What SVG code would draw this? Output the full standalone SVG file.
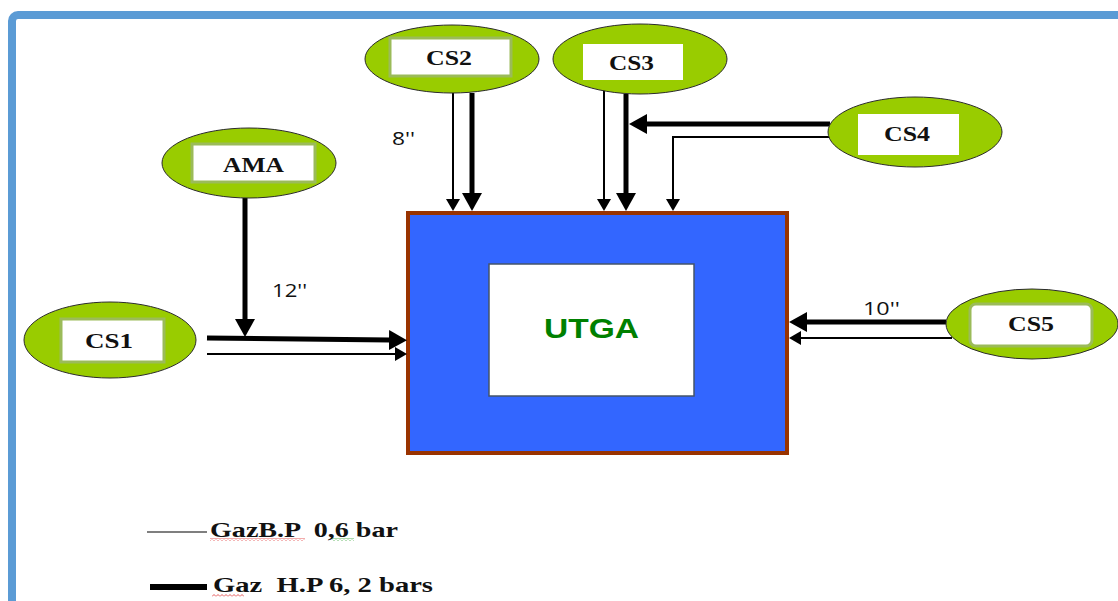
<svg xmlns="http://www.w3.org/2000/svg" width="1118" height="601" viewBox="0 0 1118 601">
<style>
.ell{fill:#99cc00;stroke:#2b2b2b;stroke-width:1}
.boxg{fill:#ffffff;stroke:#9bbb59;stroke-width:3}
.boxw{fill:#ffffff;stroke:none}
.lbl{font-family:"Liberation Serif","Times New Roman",serif;font-weight:bold;font-size:21px;fill:#111;text-anchor:start}
.num{font-family:"Open Sans","Liberation Sans",sans-serif;font-size:18px;fill:#111}
.thick{fill:none;stroke:#000;stroke-width:5}
.thin{fill:none;stroke:#000;stroke-width:2}
.leg{font-family:"Liberation Serif","Times New Roman",serif;font-weight:bold;font-size:22px;fill:#111;white-space:pre}
</style>
<defs>
<marker id="ahT" viewBox="0 0 18 20" refX="1" refY="10" markerWidth="18" markerHeight="20" orient="auto" markerUnits="userSpaceOnUse"><path d="M0,0 L18,10 L0,20 z" fill="#000"/></marker>
<marker id="ahS" viewBox="0 0 12 14" refX="1" refY="7" markerWidth="12" markerHeight="14" orient="auto" markerUnits="userSpaceOnUse"><path d="M0,0 L12,7 L0,14 z" fill="#000"/></marker>
<pattern id="wavR" width="4" height="3" patternUnits="userSpaceOnUse"><path d="M0,2.5 L2,0.5 L4,2.5" fill="none" stroke="#e03030" stroke-width="0.8"/></pattern>
<pattern id="wavG" width="4" height="3" patternUnits="userSpaceOnUse"><path d="M0,2.5 L2,0.5 L4,2.5" fill="none" stroke="#30a030" stroke-width="0.8"/></pattern>
</defs>
<rect width="1118" height="601" fill="#ffffff"/>
<rect x="12" y="15" width="1200" height="700" rx="6" fill="none" stroke="#5b9bd5" stroke-width="8"/>

<g id="utga">
<rect x="408" y="213" width="379" height="240" fill="#3366ff" stroke="#993300" stroke-width="4"/>
<rect x="489" y="264" width="205" height="132" fill="#ffffff" stroke="#44546a" stroke-width="1.5"/>
<text x="544" y="338" font-family="Liberation Sans, Arial, sans-serif" font-weight="bold" font-size="28" fill="#008000" textLength="95" lengthAdjust="spacingAndGlyphs">UTGA</text>
</g>

<g id="connectors">
<line class="thin" x1="453" y1="93" x2="453" y2="200" marker-end="url(#ahS)"/>
<line class="thick" x1="472" y1="93" x2="472" y2="194" marker-end="url(#ahT)"/>
<line class="thin" x1="604" y1="90" x2="604" y2="200" marker-end="url(#ahS)"/>
<line class="thick" x1="626" y1="94" x2="626" y2="194" marker-end="url(#ahT)"/>
<line class="thick" x1="830" y1="124" x2="646" y2="124" marker-end="url(#ahT)"/>
<path class="thin" d="M831,137 L673,137 L673,200" marker-end="url(#ahS)"/>
<line class="thick" x1="245" y1="198" x2="245" y2="320" marker-end="url(#ahT)"/>
<line class="thick" x1="207" y1="338" x2="390" y2="340" marker-end="url(#ahT)"/>
<line class="thin" x1="207" y1="354" x2="396" y2="354" marker-end="url(#ahS)"/>
<line class="thick" x1="946" y1="322" x2="806" y2="322" marker-end="url(#ahT)"/>
<line class="thin" x1="952" y1="338" x2="800" y2="338" marker-end="url(#ahS)"/>
<text class="num" x="392" y="145" textLength="23" lengthAdjust="spacingAndGlyphs">8''</text>
<text class="num" x="272" y="297" textLength="35" lengthAdjust="spacingAndGlyphs">12''</text>
<text class="num" x="863" y="315" textLength="37" lengthAdjust="spacingAndGlyphs">10''</text>
</g>

<g id="cs2">
<ellipse class="ell" cx="452" cy="59" rx="87" ry="34"/>
<rect class="boxg" x="390" y="38" width="121" height="38"/>
<text class="lbl" x="426" y="65" textLength="46" lengthAdjust="spacingAndGlyphs">CS2</text>
</g>
<g id="cs3">
<ellipse class="ell" cx="640" cy="59" rx="87" ry="35"/>
<rect class="boxw" x="583" y="44" width="100" height="36"/>
<text class="lbl" x="609" y="70" textLength="45" lengthAdjust="spacingAndGlyphs">CS3</text>
</g>
<g id="ama">
<ellipse class="ell" cx="249" cy="163" rx="87" ry="35"/>
<rect class="boxg" x="192" y="144" width="123" height="38"/>
<text class="lbl" x="223" y="172" textLength="61" lengthAdjust="spacingAndGlyphs">AMA</text>
</g>
<g id="cs1">
<ellipse class="ell" cx="110" cy="340" rx="86" ry="38"/>
<rect class="boxg" x="61" y="319" width="103" height="43"/>
<text class="lbl" x="85" y="348" textLength="48" lengthAdjust="spacingAndGlyphs">CS1</text>
</g>
<g id="cs4">
<ellipse class="ell" cx="915" cy="132" rx="87" ry="35"/>
<rect class="boxw" x="858" y="114" width="101" height="41"/>
<text class="lbl" x="884" y="141" textLength="46" lengthAdjust="spacingAndGlyphs">CS4</text>
</g>
<g id="cs5">
<ellipse class="ell" cx="1032" cy="324" rx="86" ry="35"/>
<rect class="boxg" x="970" y="304" width="122" height="42" rx="6"/>
<text class="lbl" x="1008" y="331" textLength="46" lengthAdjust="spacingAndGlyphs">CS5</text>
</g>

<g id="legend">
<line x1="147" y1="532" x2="207" y2="532" stroke="#000" stroke-width="1.2"/>
<text class="leg" x="210" y="537" textLength="188" lengthAdjust="spacingAndGlyphs">GazB.P  0,6 bar</text>
<rect x="210" y="538" width="95" height="3" fill="url(#wavR)"/>
<rect x="332" y="538" width="22" height="3" fill="url(#wavG)"/>
<line x1="150" y1="587" x2="207" y2="587" stroke="#000" stroke-width="6"/>
<text class="leg" x="213" y="592" textLength="220" lengthAdjust="spacingAndGlyphs">Gaz  H.P 6, 2 bars</text>
<rect x="212" y="594" width="32" height="3" fill="url(#wavR)"/>
</g>
</svg>
